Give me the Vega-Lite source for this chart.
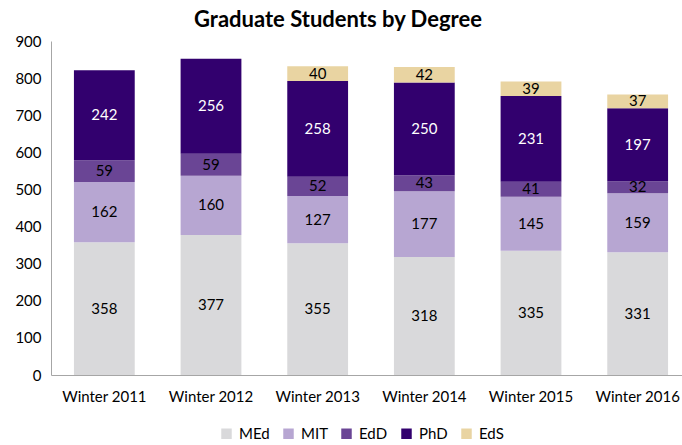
{
  "$schema": "https://vega.github.io/schema/vega-lite/v6.json",
  "width": 640,
  "height": 334,
  "padding": {"left": 14, "top": 9, "right": 0, "bottom": 0},
  "background": "white",
  "title": {"text": "Graduate Students by Degree", "font": "Lato", "fontSize": 22, "fontWeight": "bold", "color": "#000000", "anchor": "middle", "dx": -33, "offset": 2},
  "data": {"values": [
    {"term": "Winter 2011", "degree": "MEd", "order": 1, "n": 358},
    {"term": "Winter 2011", "degree": "MIT", "order": 2, "n": 162},
    {"term": "Winter 2011", "degree": "EdD", "order": 3, "n": 59},
    {"term": "Winter 2011", "degree": "PhD", "order": 4, "n": 242},
    {"term": "Winter 2012", "degree": "MEd", "order": 1, "n": 377},
    {"term": "Winter 2012", "degree": "MIT", "order": 2, "n": 160},
    {"term": "Winter 2012", "degree": "EdD", "order": 3, "n": 59},
    {"term": "Winter 2012", "degree": "PhD", "order": 4, "n": 256},
    {"term": "Winter 2013", "degree": "MEd", "order": 1, "n": 355},
    {"term": "Winter 2013", "degree": "MIT", "order": 2, "n": 127},
    {"term": "Winter 2013", "degree": "EdD", "order": 3, "n": 52},
    {"term": "Winter 2013", "degree": "PhD", "order": 4, "n": 258},
    {"term": "Winter 2013", "degree": "EdS", "order": 5, "n": 40},
    {"term": "Winter 2014", "degree": "MEd", "order": 1, "n": 318},
    {"term": "Winter 2014", "degree": "MIT", "order": 2, "n": 177},
    {"term": "Winter 2014", "degree": "EdD", "order": 3, "n": 43},
    {"term": "Winter 2014", "degree": "PhD", "order": 4, "n": 250},
    {"term": "Winter 2014", "degree": "EdS", "order": 5, "n": 42},
    {"term": "Winter 2015", "degree": "MEd", "order": 1, "n": 335},
    {"term": "Winter 2015", "degree": "MIT", "order": 2, "n": 145},
    {"term": "Winter 2015", "degree": "EdD", "order": 3, "n": 41},
    {"term": "Winter 2015", "degree": "PhD", "order": 4, "n": 231},
    {"term": "Winter 2015", "degree": "EdS", "order": 5, "n": 39},
    {"term": "Winter 2016", "degree": "MEd", "order": 1, "n": 331},
    {"term": "Winter 2016", "degree": "MIT", "order": 2, "n": 159},
    {"term": "Winter 2016", "degree": "EdD", "order": 3, "n": 32},
    {"term": "Winter 2016", "degree": "PhD", "order": 4, "n": 197},
    {"term": "Winter 2016", "degree": "EdS", "order": 5, "n": 37}
  ]},
  "transform": [
    {"stack": "n", "groupby": ["term"], "sort": [{"field": "order", "order": "ascending"}], "as": ["y0", "y1"]},
    {"calculate": "(datum.y0 + datum.y1) / 2", "as": "ymid"}
  ],
  "encoding": {
    "x": {"field": "term", "type": "nominal", "title": null,
      "scale": {"paddingInner": 0.43, "paddingOuter": 0.215},
      "axis": {"labelAngle": 0, "labelFont": "Lato", "labelFontSize": 15, "labelColor": "#000000", "ticks": false, "domainColor": "#A6A6A6", "labelPadding": 14}}
  },
  "layer": [
    {
      "mark": {"type": "bar"},
      "encoding": {
        "y": {"field": "y0", "type": "quantitative", "title": null,
          "scale": {"domain": [0, 900]},
          "axis": {"values": [0,100,200,300,400,500,600,700,800,900], "labelOverlap": false, "grid": false, "ticks": false, "domainColor": "#A6A6A6", "labelFont": "Lato", "labelFontSize": 15, "labelColor": "#000000", "labelPadding": 10}},
        "y2": {"field": "y1"},
        "color": {"field": "degree", "type": "nominal",
          "scale": {"domain": ["MEd", "MIT", "EdD", "PhD", "EdS"], "range": ["#D9D9DB", "#B7A6D2", "#6A4595", "#32006E", "#E9D4A2"]},
          "legend": {"title": null, "orient": "none", "direction": "horizontal", "legendX": 168, "legendY": 385, "symbolType": "square", "symbolSize": 110, "symbolStrokeWidth": 0, "labelFont": "Lato", "labelFontSize": 15, "labelColor": "#000000", "columnPadding": 11, "labelOffset": 5}}
      }
    },
    {
      "mark": {"type": "text", "font": "Lato", "fontSize": 15, "baseline": "middle", "align": "center"},
      "encoding": {
        "y": {"field": "ymid", "type": "quantitative", "scale": {"domain": [0, 900]}, "axis": {"values": [0,100,200,300,400,500,600,700,800,900], "labelOverlap": false, "grid": false, "ticks": false, "domainColor": "#A6A6A6", "labelFont": "Lato", "labelFontSize": 15, "labelColor": "#000000", "labelPadding": 10, "title": null}},
        "text": {"field": "n", "type": "quantitative"},
        "color": {"condition": {"test": "datum.degree === 'PhD'", "value": "white"}, "value": "black"}
      }
    }
  ],
  "config": {"view": {"stroke": null}}
}
